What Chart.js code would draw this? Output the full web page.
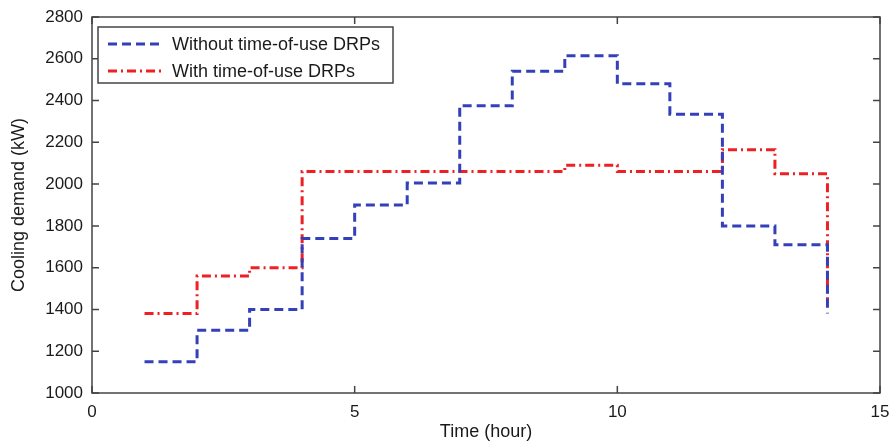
<!DOCTYPE html>
<html><head><meta charset="utf-8">
<script src="https://cdn.jsdelivr.net/npm/chart.js@4.4.1/dist/chart.umd.min.js"></script>
<style>html,body{margin:0;padding:0;background:#fff}#w{width:894px;height:447px}</style>
</head><body><div id="w"><canvas id="c"></canvas></div>
<script>
const hours = [1,2,3,4,5,6,7,8,9,10,11,12,13,14];
const withoutDRP = [1150,1300,1400,1740,1900,2005,2375,2540,2615,2480,2335,1800,1710,1380];
const withDRP = [1380,1560,1600,2060,2060,2060,2060,2060,2090,2060,2060,2165,2050,1450];
const xTicks = [0,5,10,15];
const yTicks = [1000,1200,1400,1600,1800,2000,2200,2400,2600,2800];
const seriesNames = ['Without time-of-use DRPs','With time-of-use DRPs'];

const FONT = 'Liberation Sans, Arial, sans-serif';
const TXT = '#1a1a1a';
const BLUE = 'rgb(52,64,184)';
const RED = 'rgb(238,32,36)';

const frame = {
  id:'frame',
  afterDraw(ch){
    const {ctx, chartArea:a, scales:{x,y}} = ch;
    ctx.save();
    ctx.strokeStyle = '#444'; ctx.lineWidth = 1.5;
    ctx.strokeRect(a.left, a.top, a.right-a.left, a.bottom-a.top);
    const L = 7;
    ctx.beginPath();
    xTicks.forEach(v=>{const p=x.getPixelForValue(v);
      ctx.moveTo(p,a.bottom); ctx.lineTo(p,a.bottom-L);
      ctx.moveTo(p,a.top); ctx.lineTo(p,a.top+L);});
    yTicks.forEach(v=>{const p=y.getPixelForValue(v);
      ctx.moveTo(a.left,p); ctx.lineTo(a.left+L,p);
      ctx.moveTo(a.right,p); ctx.lineTo(a.right-L,p);});
    ctx.stroke();
    // legend
    const bx=98, by=27, bw=295, bh=56;
    ctx.fillStyle='#fff'; ctx.fillRect(bx,by,bw,bh);
    ctx.strokeStyle='#444'; ctx.lineWidth=1.5; ctx.strokeRect(bx,by,bw,bh);
    ch.data.datasets.forEach((ds,i)=>{
      const yy = by+17+i*27;
      ctx.strokeStyle=ds.borderColor; ctx.lineWidth=ds.borderWidth;
      ctx.setLineDash(ds.borderDash);
      ctx.beginPath(); ctx.moveTo(108,yy); ctx.lineTo(164,yy); ctx.stroke();
      ctx.setLineDash([]);
      ctx.fillStyle=TXT; ctx.font='18px '+FONT; ctx.textBaseline='middle'; ctx.textAlign='left';
      ctx.fillText(ds.label,172,yy+1);
    });
    ctx.restore();
  }
};

new Chart(document.getElementById('c'),{
  type:'line',
  data:{datasets:[
    {label:seriesNames[0], data:hours.map((h,i)=>({x:h,y:withoutDRP[i]})), stepped:true,
     borderColor:BLUE, borderWidth:3, borderDash:[9,5], pointRadius:0, fill:false},
    {label:seriesNames[1], data:hours.map((h,i)=>({x:h,y:withDRP[i]})), stepped:true,
     borderColor:RED, borderWidth:3, borderDash:[9,4,2,4], pointRadius:0, fill:false}
  ]},
  options:{
    responsive:true, maintainAspectRatio:false, animation:false,
    layout:{padding:{left:0,right:14,top:17,bottom:0}},
    plugins:{legend:{display:false}, tooltip:{enabled:false}},
    scales:{
      x:{type:'linear', min:0, max:15,
        afterBuildTicks(s){s.ticks=xTicks.map(v=>({value:v}));},
        afterFit(s){s.height=54; s.paddingLeft=0; s.paddingRight=0;},
        grid:{display:false, drawTicks:false}, border:{display:false},
        ticks:{padding:9, color:TXT, font:{family:FONT,size:17}, callback:v=>String(v)},
        title:{display:true,text:'Time (hour)',color:TXT,font:{family:FONT,size:18},padding:{top:1}}
      },
      y:{type:'linear', min:1000, max:2800,
        afterBuildTicks(s){s.ticks=yTicks.map(v=>({value:v}));},
        afterFit(s){s.width=92; s.paddingTop=0; s.paddingBottom=0;},
        grid:{display:false, drawTicks:false}, border:{display:false},
        ticks:{padding:9, color:TXT, font:{family:FONT,size:17}, callback:v=>String(v)},
        title:{display:true,text:'Cooling demand (kW)',color:TXT,font:{family:FONT,size:18},padding:{top:8,bottom:0}}
      }
    }
  },
  plugins:[frame]
});
</script></body></html>
